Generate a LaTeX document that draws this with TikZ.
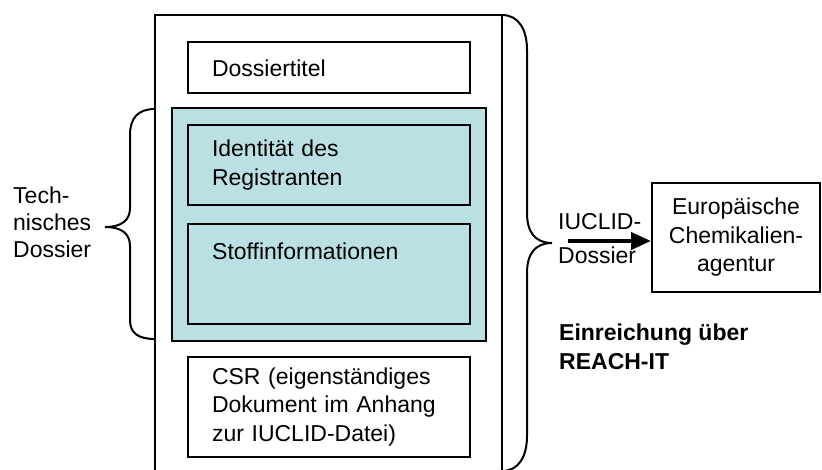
\documentclass[tikz,border=0pt]{standalone}
\usepackage{fontspec}
\setmainfont{Liberation Sans}
\usetikzlibrary{positioning,arrows.meta}
\tikzset{>={Triangle[length=20pt,width=17pt]}}
\tikzset{
  part/.style={draw,line width=2pt,minimum width=282pt,text width=234pt,inner xsep=24pt,inner ysep=0pt,align=left},
  plain/.style={inner sep=0pt,align=left},
  brace/.style={line width=2pt},
}
\definecolor{techblue}{RGB}{187,224,227}

\begin{document}
\begin{tikzpicture}[x=1pt,y=-1pt,font=\fontsize{23}{28.5}\selectfont]
\clip (0,0) rectangle (822,470);
% Pixel units, y going down

% Frame of the dossier
\draw[line width=2pt] (155,480) -- (155,15) -- (502,15) -- (502,480);
\node[draw,line width=2pt,fill=techblue,minimum width=314pt,minimum height=233pt] (tech) at (329,224.5) {};

% Parts of the dossier
\node[part,minimum height=51pt] (title) at (329,68) {Dossiertitel};
\node[part,minimum height=80pt] (ident) at (329,165) {Identität des\\Registranten};
\node[part,minimum height=100pt] (stoff) at (329,274) {};
\node[plain,anchor=west] (stofftext) at (212,251) {Stoffinformationen};
\node[part,minimum height=100pt] (csr) at (329,407) {CSR (eigenständiges\\Dokument im Anhang\\zur IUCLID-Datei)};

% Coordinates of braces
\coordinate (LT) at (155,109);
\coordinate (LM) at (105,227);
\coordinate (LB) at (155,339);
\coordinate (RT) at (502,15);
\coordinate (RM) at (552,243);
\coordinate (RB) at (502,471);

% Draw braces
\draw[brace] (LT) .. controls (138,109) and (130,118) .. (130,135) -- (130,208)
  .. controls (130,220) and (122,227) .. (LM)
  .. controls (122,227) and (130,234) .. (130,246) -- (130,320)
  .. controls (130,333) and (138,339) .. (LB);
\draw[brace] (RT) .. controls (519,15) and (527,30) .. (527,50) -- (527,213)
  .. controls (527,232) and (535,243) .. (RM)
  .. controls (535,243) and (527,254) .. (527,273) -- (527,436)
  .. controls (527,456) and (519,471) .. (RB);

\node[plain,anchor=west,font=\fontsize{23}{27}\selectfont] (techlabel) at (13,222) {Tech-\\nisches\\Dossier};

% Submission
\node[draw,line width=2pt,minimum width=168pt,minimum height=109pt,inner sep=0pt,align=center] (echa) at (736,237.5) {Europäische\\Chemikalien-\\agentur};
\coordinate (out) at (568,241);
\draw[->,line width=4pt] (out) -- (echa.west |- out);
\node[plain,anchor=west,font=\fontsize{23}{34.5}\selectfont] (iuclid) at (558,238.5) {IUCLID-\\Dossier};
\node[plain,anchor=west,font=\fontsize{23}{29}\selectfont\bfseries] (submit) at (559,347) {Einreichung über\\REACH-IT};

\end{tikzpicture}
\end{document}
